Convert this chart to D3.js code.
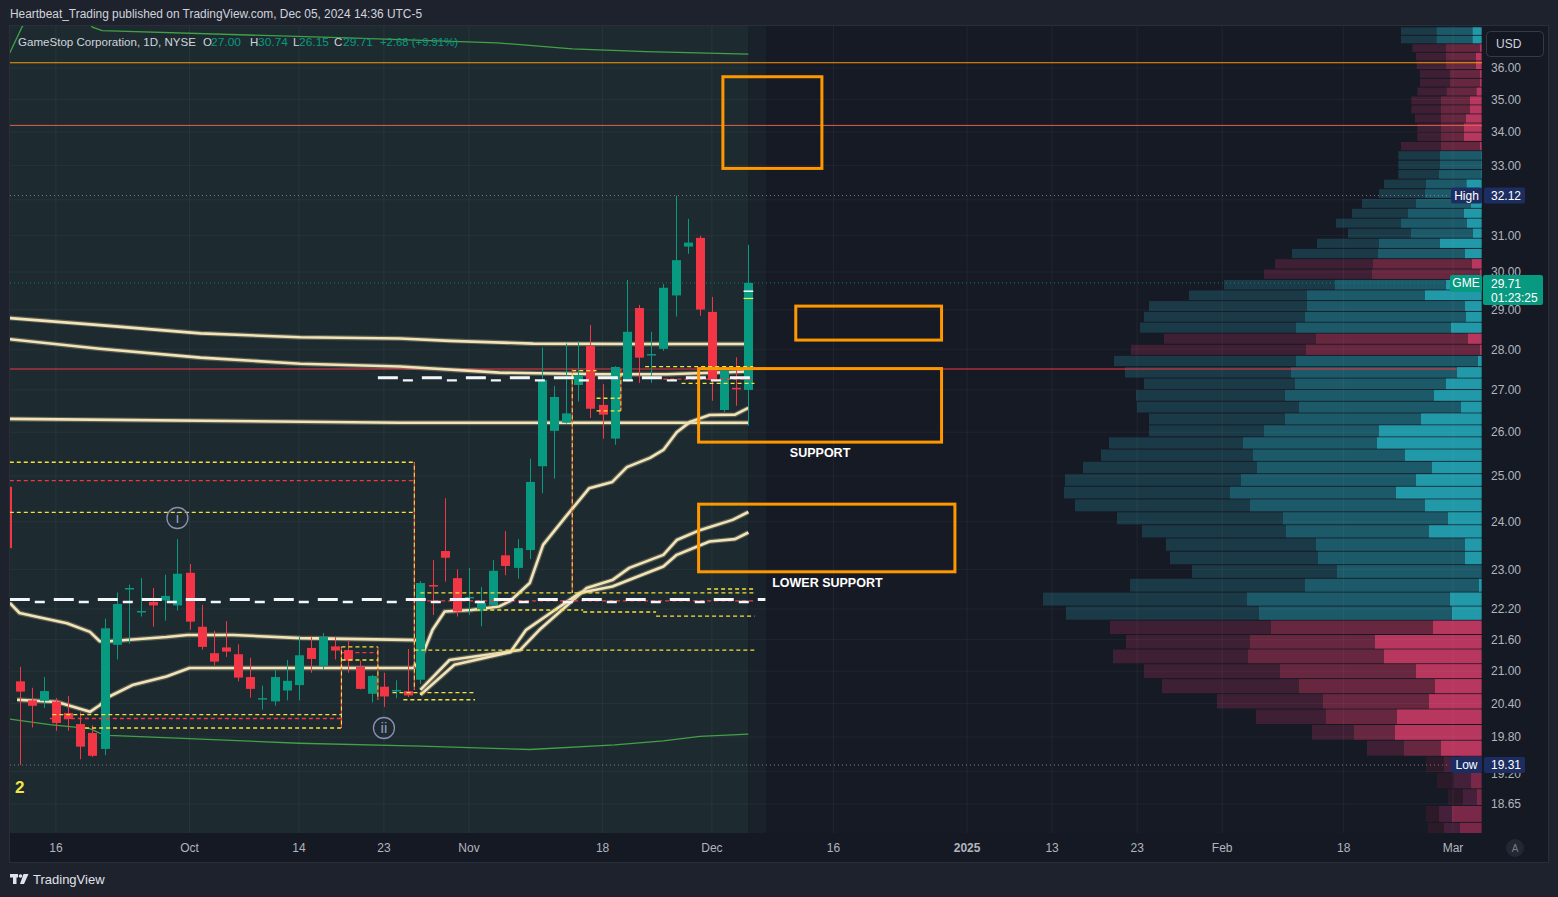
<!DOCTYPE html>
<html><head><meta charset="utf-8">
<script src="https://cdn.jsdelivr.net/npm/d3@7"></script>
<style>
html,body{margin:0;padding:0;background:#1e222d;overflow:hidden;}
svg{display:block;}
</style></head><body>
<svg id="c" width="1558" height="897"></svg>
<script>
// ---------------- DATA ----------------
const dates = ["Sep 10","Sep 11","Sep 12","Sep 13","Sep 16","Sep 17","Sep 18","Sep 19","Sep 20","Sep 23","Sep 24","Sep 25","Sep 26","Sep 27","Sep 30",
"Oct 1","Oct 2","Oct 3","Oct 4","Oct 7","Oct 8","Oct 9","Oct 10","Oct 11","Oct 14","Oct 15","Oct 16","Oct 17","Oct 18","Oct 21","Oct 22","Oct 23","Oct 24","Oct 25","Oct 28","Oct 29","Oct 30","Oct 31",
"Nov 1","Nov 4","Nov 5","Nov 6","Nov 7","Nov 8","Nov 11","Nov 12","Nov 13","Nov 14","Nov 15","Nov 18","Nov 19","Nov 20","Nov 21","Nov 22","Nov 25","Nov 26","Nov 27","Nov 29",
"Dec 2","Dec 3","Dec 4","Dec 5"];
const opens  = [24.76,20.81,20.46,20.45,20.44,20.23,20.03,19.87,19.59,21.50,22.60,22.14,22.34,22.37,22.27,22.93,21.85,21.34,21.45,21.32,20.89,20.48,20.44,20.64,20.74,21.44,21.10,21.47,21.40,21.08,20.58,20.71,20.63,20.63,20.84,22.68,23.38,22.82,22.41,22.18,22.28,23.29,23.03,23.40,25.22,26.03,26.22,27.12,28.08,26.64,25.85,27.22,29.05,27.86,28.01,29.38,30.69,30.93,28.95,26.52,27.05,27.00];
const highs  = [24.90,21.08,20.69,20.89,20.50,20.54,20.24,20.01,22.01,22.53,22.69,22.82,22.62,22.89,23.63,23.11,22.28,21.77,21.96,21.51,21.25,20.73,21.03,21.21,21.65,21.67,21.73,21.65,21.59,21.20,20.93,20.97,20.83,21.42,22.76,23.19,24.51,23.00,23.03,22.64,23.19,23.80,23.63,25.39,28.04,27.09,28.14,28.20,28.61,27.14,27.58,29.79,29.13,28.44,29.68,32.12,31.46,30.99,29.34,27.57,27.80,30.74];
const lows   = [23.30,19.31,19.97,20.32,19.91,19.91,19.41,19.45,19.48,21.22,21.52,22.05,21.85,21.97,22.17,21.79,21.41,21.11,21.27,20.81,20.51,20.29,20.36,20.46,20.46,20.97,21.03,21.22,20.97,20.66,20.42,20.34,20.50,20.52,20.76,22.08,22.75,22.05,22.08,21.86,22.26,22.88,22.81,23.21,24.62,24.94,26.20,26.72,26.33,25.85,25.71,27.20,27.17,27.17,27.96,28.83,30.49,28.85,26.74,26.47,26.62,26.15];
const closes = [23.44,20.62,20.36,20.63,20.05,20.12,19.63,19.47,21.82,22.30,22.62,22.16,22.27,22.46,22.91,21.95,21.46,21.18,21.37,20.88,20.67,20.50,20.89,20.82,21.30,21.23,21.65,21.39,21.20,20.67,20.91,20.53,20.65,20.55,22.72,22.66,23.24,22.15,22.44,22.32,22.97,23.07,23.44,24.87,27.24,26.83,26.44,27.36,26.55,26.41,27.56,28.44,27.79,27.88,29.58,30.32,30.80,29.01,27.24,27.47,27.03,29.71];
const firstIdx = -1; // Sep 10 sits one trading day before Sep 11 (index 0)

const timeTickLabels = ["16","Oct","14","23","Nov","18","Dec","16","2025","13","23","Feb","18","Mar"];
const timeTickIdx    = [3,14,23,30,37,48,57,67,78,85,92,99,109,118];
const priceTicks = [36,35,34,33,31,30,29,28,27,26,25,24,23,22.2,21.6,21,20.4,19.8,19.2,18.65];
const gridPrices = [36,35,34,33,32,31,30,29,28,27,26,25,24,23,22.2,21.6,21,20.4,19.8,19.2,18.65];

// indicator lines: [trading-day index, price]
const bandUpper = [[-0.8,36.49],[0.2,37.34],[1.5,38.0],[3.5,38.3],[5.5,37.6],[6,37.34],[6.8,37.22],[27,36.98],[39.3,36.82],[45.5,36.62],[51.6,36.53],[60,36.45]];
const bandLower = [[-0.8,20.12],[2.5,20.02],[5.8,19.95],[6.6,19.87],[7.4,19.83],[23,19.69],[33,19.64],[42,19.58],[49,19.66],[53,19.73],[56,19.81],[60,19.85]];
const vwapTop1 = [[-0.8,28.79],[6.6,28.61],[14.9,28.40],[23.1,28.30],[31.3,28.27],[35.4,28.21],[42.3,28.14],[50.5,28.13],[60,28.13]];
const vwapTop2 = [[-0.8,28.25],[6.6,28.01],[14.9,27.79],[23.1,27.64],[31.3,27.57],[39.5,27.42],[47.8,27.38],[53.3,27.38],[60,27.45]];
const vwapTop3 = [[-0.8,26.31],[31.3,26.22],[60,26.22]];
const vwapSep1 = [[-0.8,22.32],[0,22.12],[1.7,22.03],[3.9,21.92],[5.8,21.75],[6.6,21.57],[7.4,21.57],[12.1,21.65],[13.8,21.69],[17.6,21.69],[23.1,21.63],[33,21.59]];
const vwapSep2 = [[-0.2,20.47],[3.1,20.43],[5.8,20.25],[6.6,20.37],[7.4,20.53],[9.3,20.74],[12.1,20.90],[14,21.06],[25.8,21.06],[32.4,21.06],[33,21.21],[34,21.79],[35,22.15],[37.2,22.18],[39.5,22.25],[40.4,22.36],[42,22.72],[43.1,23.51],[45,24.12],[46.9,24.73],[48.8,24.87],[50,25.20],[51.9,25.41],[53,25.59],[54.1,26.00],[55.2,26.24],[56.8,26.40],[58.9,26.41],[60,26.57]];
const vwapOct1 = [[33,20.65],[35.4,21.21],[41.2,21.40],[42.8,21.79],[46.7,22.62],[48.8,22.78],[50.2,23.03],[53,23.30],[54.1,23.61],[56,23.82],[58.7,24.04],[60,24.21]];
const vwapOct2 = [[33,20.56],[35.8,21.12],[40.4,21.36],[41.7,21.79],[46.1,22.52],[48.8,22.65],[53,23.06],[54.1,23.30],[56.8,23.58],[58.9,23.63],[60,23.77]];

// horizontal levels
const orangeLevel = 36.17, salmonLevel = 34.20, redLevel = 27.51;
const whiteDashLevels = [[-0.8,61.4,22.37],[29.5,60.2,27.27]];
const yellowDash = [[-0.8,32.5,25.31],[-0.8,32.5,24.20],[2.7,26.5,20.20],[5.4,26.5,19.96],[26.5,29.5,21.46],[26.5,29.5,21.21],[30.7,37.5,20.60],[31.6,37.5,20.47],
  [45.5,47.5,27.47],[47.5,49.5,26.80],[47.5,49.5,26.50],[51.5,60.4,27.57],[54.5,60.5,27.16],[56.6,60.5,22.60],[33,60.5,22.52],[37.6,46.4,22.18],[46.4,52.4,22.14],[52.4,60.5,22.06],[32.5,60.5,21.40]];
const redDash = [[-0.8,32.5,24.90],[2.5,26.5,20.13],[26.5,29.5,21.35],[32.4,60.5,22.36],[53,60.4,27.26]];
const vertDash = [[32.5,25.31,20.65],[26.5,21.46,19.96],[29.5,21.46,20.47],[45.5,27.49,22.52],[49.5,27.49,26.50]];

// orange zones [idx0, idx1, priceTop, priceBottom]
const zones = [[57.9,66.05,35.72,32.91],[63.9,75.9,29.10,28.23],[55.9,75.9,27.52,25.77],[55.9,77.0,24.38,22.95]];
const zoneLabels = [["SUPPORT",65.9,25.54],["LOWER SUPPORT",66.5,22.72]];
const waveLabels = [["i",13,24.08],["ii",30,19.96]];

// volume profile (rows from top, price step per row)
const vpTop = 37.33, vpStep = 0.2793;
const vpTotal  = [80.5,80.5,69.2,65.5,64.8,61.5,61.5,64.2,70.2,70.2,66.5,64.2,64.2,80.5,83.2,83.2,83.2,97.5,102.5,119.5,129.5,145.5,133.5,164.5,189.5,206.5,217.5,257.5,292.5,332.5,337.5,341.5,317.5,350.5,367.5,356.5,337.5,345.5,344.5,332.5,332.5,372.5,380.5,398.5,416.5,417.5,406.5,364.5,339.5,315.5,311.5,289.5,351.5,438.5,415.5,371.5,355.5,368.5,337.5,319.5,264.5,225.5,169.5,114.5,55.5,44.5,33.5,55.5,53.5];
const vpMid    = [44.8,44.8,35.5,35.5,35.5,31.5,31.5,34.8,40.5,40.5,40.5,40.5,40.5,40.5,41.5,41.5,42.5,55.5,56.5,65.5,73.5,80.5,70.5,102.5,103.5,108.5,109.5,146.5,174.5,174.5,176.5,185.5,165.5,175.5,185.5,190.5,186.5,196.5,182.5,196.5,217.5,238.5,228.5,224.5,240.5,251.5,231.5,198.5,195.5,165.5,163.5,144.5,176.5,234.5,222.5,210.5,231.5,233.5,201.5,182.5,158.5,155.5,127.5,77.5,37.5,27.5,18.5,42.5,37.5];
const vpBright = [8.8,8.8,1.5,5.5,5.5,1.5,1.5,4.8,11.5,11.5,15.5,17.5,17.5,1.5,0.5,0.5,0.5,14.8,10,10.5,17.5,14.5,8.5,41.5,16.5,9.5,1.5,35.5,56.5,16.5,15.5,30.5,13.5,1.5,3.5,24.5,35.5,47.5,20.5,60.5,102.5,104.5,76.5,49.5,65.5,85.5,56.5,33.5,52.5,16.5,16.5,0,2.5,31.5,29.5,48.5,106.5,97.5,65.5,46.5,52.5,84.5,86.5,40.5,21.5,10.5,4.5,29.5,21.5];
const vpSide = "ttpppppppppppptttttttttttpptttttpptttttttttttttttttttttppppppppppppppp"; // t = buy-dominant (teal), p = sell-dominant (pink)
const vpDimFrom = 64;

// ---------------- LAYOUT ----------------
const W = 1558, H = 897;
const P = {l:10, t:26, r:1482, b:833};
const FONT = "'Liberation Sans','Noto Sans',Arial,sans-serif";
const svg = d3.select("#c").attr("font-family", FONT);
const x = d3.scaleLinear().domain([0,118]).range([19.5,1453]);
const y = d3.scaleLog().domain([36,19.8]).range([68,737]);
const xv = d3.scaleLinear().domain([0,438.5]).range([0,438.5]);

svg.append("rect").attr("width",W).attr("height",H).attr("fill","#1e222d");
svg.append("rect").attr("x",9.5).attr("y",25.5).attr("width",1539).attr("height",837).attr("fill","#151924").attr("stroke","#2a2e39");
const defs = svg.append("defs");
defs.append("clipPath").attr("id","pane").append("rect").attr("x",P.l).attr("y",P.t).attr("width",P.r-P.l).attr("height",P.b-P.t);
const g = svg.append("g").attr("clip-path","url(#pane)");
g.append("rect").attr("x",P.l).attr("y",P.t).attr("width",P.r-P.l).attr("height",P.b-P.t).attr("fill","#161a25");
g.append("rect").attr("x",P.l).attr("y",P.t).attr("width",x(60)-P.l).attr("height",P.b-P.t).attr("fill","#1d2b30");
g.append("rect").attr("x",x(60)).attr("y",P.t).attr("width",x(61.45)-x(60)).attr("height",P.b-P.t).attr("fill","#19212a");

// volume profile
const vpCol = {t:["#1b3a47","#1d5a69","#2299a8"], p:["#3f1f33","#66273f","#b8375f"]};
const vpDim = {t:["#16303a","#1a4450","#1f6f7a"], p:["#2c1a29","#44203a","#7a2848"]};
vpTotal.forEach((v,i)=>{
  const pt = vpTop - i*vpStep, pb = vpTop - (i+1)*vpStep;
  const y0 = y(pt), y1 = y(pb) - 1;
  const pal = (i>=vpDimFrom ? vpDim : vpCol)[vpSide[i]];
  [[v,0],[vpMid[i],1],[vpBright[i],2]].forEach(([val,k])=>{
    if(val<=0) return;
    g.append("rect").attr("x",P.r-0.5-xv(val)).attr("y",y0).attr("width",xv(val)).attr("height",Math.max(0.5,y1-y0)).attr("fill",pal[k]);
  });
});

// grid
timeTickIdx.forEach(t=>g.append("line").attr("x1",x(t)).attr("x2",x(t)).attr("y1",P.t).attr("y2",P.b).attr("stroke","#ffffff").attr("stroke-opacity",0.05));
gridPrices.forEach(p=>g.append("line").attr("x1",P.l).attr("x2",P.r).attr("y1",y(p)).attr("y2",y(p)).attr("stroke","#ffffff").attr("stroke-opacity",0.045));

// horizontal levels
g.append("line").attr("x1",P.l).attr("x2",P.r).attr("y1",y(orangeLevel)).attr("y2",y(orangeLevel)).attr("stroke","#ff9800").attr("stroke-width",1.2);
g.append("line").attr("x1",P.l).attr("x2",P.r).attr("y1",y(salmonLevel)).attr("y2",y(salmonLevel)).attr("stroke","#e0604a").attr("stroke-width",1);
g.append("line").attr("x1",P.l).attr("x2",x(118.3)).attr("y1",y(redLevel)).attr("y2",y(redLevel)).attr("stroke","#f23645").attr("stroke-width",1.2);

// dotted high / low / last
const hi = d3.max(highs), lo = d3.min(lows), last = closes[closes.length-1];
[[hi,"#9598a1"],[lo,"#9598a1"],[last,"#089981"]].forEach(([p,c])=>g.append("line").attr("x1",P.l).attr("x2",1450).attr("y1",y(p)).attr("y2",y(p)).attr("stroke",c).attr("stroke-width",1).attr("stroke-dasharray","1,3").attr("stroke-opacity",0.8));

// green bands
const lineGen = d3.line().x(d=>x(d[0])).y(d=>y(d[1]));
[bandUpper,bandLower].forEach(d=>g.append("path").attr("d",lineGen(d)).attr("fill","none").attr("stroke","#43a047").attr("stroke-width",1.3));

// cream anchored lines
[vwapTop1,vwapTop2,vwapTop3,vwapSep1,vwapSep2,vwapOct1,vwapOct2].forEach(d=>{
  g.append("path").attr("d",lineGen(d)).attr("fill","none").attr("stroke","#c9b98c").attr("stroke-opacity",0.35).attr("stroke-width",5).attr("stroke-linejoin","round");
  g.append("path").attr("d",lineGen(d)).attr("fill","none").attr("stroke","#f2e3b8").attr("stroke-width",2.6).attr("stroke-linejoin","round");
});

// candles
const up = "#089981", dn = "#f23645";
opens.forEach((o,i)=>{
  const idx = firstIdx + i, c = closes[i], col = c>=o ? up : dn;
  const cx = Math.round(x(idx)) + 0.5;
  g.append("line").attr("x1",cx).attr("x2",cx).attr("y1",y(highs[i])).attr("y2",y(lows[i])).attr("stroke",col).attr("stroke-width",1);
  const yt = y(Math.max(o,c)), yb = y(Math.min(o,c));
  g.append("rect").attr("x",cx-4.5).attr("y",yt).attr("width",9).attr("height",Math.max(1.5,yb-yt)).attr("fill",col);
});
// small marks on last candle
g.append("line").attr("x1",x(59.6)).attr("x2",x(60.4)).attr("y1",y(29.49)).attr("y2",y(29.49)).attr("stroke","#ffffff").attr("stroke-width",1.5);
g.append("line").attr("x1",x(59.6)).attr("x2",x(60.4)).attr("y1",y(29.30)).attr("y2",y(29.30)).attr("stroke","#f5e642").attr("stroke-width",1.2);

// dashed structure lines
yellowDash.forEach(([a,b,p])=>g.append("line").attr("x1",x(a)).attr("x2",x(b)).attr("y1",y(p)).attr("y2",y(p)).attr("stroke","#f5e23a").attr("stroke-width",1.3).attr("stroke-dasharray","4,3"));
redDash.forEach(([a,b,p])=>g.append("line").attr("x1",x(a)).attr("x2",x(b)).attr("y1",y(p)).attr("y2",y(p)).attr("stroke","#f23645").attr("stroke-width",1.3).attr("stroke-dasharray","4,3"));
vertDash.forEach(([a,p0,p1])=>{
  g.append("line").attr("x1",x(a)).attr("x2",x(a)).attr("y1",y(p0)).attr("y2",y(p1)).attr("stroke","#f23645").attr("stroke-width",1.2).attr("stroke-dasharray","4,3");
  g.append("line").attr("x1",x(a)).attr("x2",x(a)).attr("y1",y(p0)).attr("y2",y(p1)).attr("stroke","#f5e23a").attr("stroke-width",1.2).attr("stroke-dasharray","4,3").attr("stroke-dashoffset",3.5);
});
whiteDashLevels.forEach(([a,b,p])=>{
  g.append("line").attr("x1",x(a)).attr("x2",x(b)).attr("y1",y(p)-1).attr("y2",y(p)-1).attr("stroke","#f4f7fa").attr("stroke-width",3).attr("stroke-dasharray","20,24");
  g.append("line").attr("x1",x(a)).attr("x2",x(b)).attr("y1",y(p)+1.6).attr("y2",y(p)+1.6).attr("stroke","#f4f7fa").attr("stroke-width",2.4).attr("stroke-dasharray","10,34").attr("stroke-dashoffset",-25);
});

// orange zones
zones.forEach(([a,b,pt,pb])=>g.append("rect").attr("x",x(a)).attr("y",y(pt)).attr("width",x(b)-x(a)).attr("height",y(pb)-y(pt)).attr("fill","none").attr("stroke","#ff9800").attr("stroke-width",3));
zoneLabels.forEach(([t,i,p])=>g.append("text").attr("x",x(i)).attr("y",y(p)).attr("dy","0.35em").attr("text-anchor","middle").attr("fill","#ffffff").attr("font-size",12.5).attr("font-weight","bold").text(t));
waveLabels.forEach(([t,i,p])=>{
  g.append("circle").attr("cx",x(i)).attr("cy",y(p)).attr("r",10.5).attr("fill","none").attr("stroke","#8c8fb4").attr("stroke-width",1.3);
  g.append("text").attr("x",x(i)).attr("y",y(p)).attr("dy","0.36em").attr("text-anchor","middle").attr("fill","#9a9dc0").attr("font-size",15).text(t);
});
g.append("text").attr("x",15).attr("y",787).attr("dy","0.35em").attr("fill","#f5e642").attr("font-size",17).attr("font-weight","bold").text("2");

// ---------------- AXES ----------------
const ax = svg.append("g").attr("fill","#b2b5be").attr("font-size",12);
priceTicks.forEach(p=>ax.append("text").attr("x",1491).attr("y",y(p)+(p===19.2?2:0)).attr("dy","0.36em").text(d3.format(".2f")(p)));
timeTickLabels.forEach((t,i)=>ax.append("text").attr("x",x(timeTickIdx[i])).attr("y",848).attr("dy","0.35em").attr("text-anchor","middle").attr("font-weight",t==="2025"?"bold":"normal").text(t));

// USD box
svg.append("rect").attr("x",1486.5).attr("y",31.5).attr("width",57).attr("height",25).attr("rx",4).attr("fill","#131722").attr("stroke","#363a45");
svg.append("text").attr("x",1496).attr("y",44).attr("dy","0.35em").attr("fill","#d1d4dc").attr("font-size",12).text("USD");

// High / Low / GME labels
function tag(label,val,p,fill){
  const yy = y(p);
  svg.append("rect").attr("x",1451).attr("y",yy-8).attr("width",31).attr("height",16).attr("rx",2).attr("fill",fill);
  svg.append("text").attr("x",1466.5).attr("y",yy).attr("dy","0.36em").attr("text-anchor","middle").attr("fill","#ffffff").attr("font-size",12).text(label);
  svg.append("rect").attr("x",1484).attr("y",yy-8).attr("width",41).attr("height",16).attr("rx",2).attr("fill",fill);
  svg.append("text").attr("x",1491).attr("y",yy).attr("dy","0.36em").attr("fill","#ffffff").attr("font-size",12).text(val);
}
tag("High", d3.format(".2f")(hi), hi, "#1c2d62");
tag("Low", d3.format(".2f")(lo), lo, "#1c2d62");
{
  const yy = y(last);
  svg.append("rect").attr("x",1450).attr("y",yy-8).attr("width",32).attr("height",17).attr("rx",2).attr("fill",up);
  svg.append("text").attr("x",1466).attr("y",yy).attr("dy","0.38em").attr("text-anchor","middle").attr("fill","#ffffff").attr("font-size",12).text("GME");
  svg.append("rect").attr("x",1483).attr("y",yy-8).attr("width",60).attr("height",30).attr("rx",2).attr("fill",up);
  svg.append("text").attr("x",1491).attr("y",yy+0.5).attr("dy","0.36em").attr("fill","#ffffff").attr("font-size",12).text(d3.format(".2f")(last));
  svg.append("text").attr("x",1491).attr("y",yy+14.5).attr("dy","0.36em").attr("fill","#ffffff").attr("font-size",12).text("01:23:25");
}
// "A" button
svg.append("circle").attr("cx",1515).attr("cy",848).attr("r",9).attr("fill","#232733");
svg.append("text").attr("x",1515).attr("y",848).attr("dy","0.36em").attr("text-anchor","middle").attr("fill","#787b86").attr("font-size",10).text("A");

// header
svg.append("text").attr("x",10).attr("y",14).attr("dy","0.35em").attr("fill","#d1d4dc").attr("font-size",12.5)
  .attr("textLength",412).attr("lengthAdjust","spacingAndGlyphs")
  .text("Heartbeat_Trading published on TradingView.com, Dec 05, 2024 14:36 UTC-5");

// legend
const lg = svg.append("g").attr("font-size",11.5);
const lgY = 42;
lg.append("text").attr("x",18).attr("y",lgY).attr("dy","0.35em").attr("fill","#d1d4dc").attr("textLength",178).attr("lengthAdjust","spacingAndGlyphs").text("GameStop Corporation, 1D, NYSE");
const ohlc = [["O",203,d3.format(".2f")(opens[opens.length-1]),211],["H",250,d3.format(".2f")(highs[highs.length-1]),258],["L",293,d3.format(".2f")(lows[lows.length-1]),299],["C",334,d3.format(".2f")(last),343]];
ohlc.forEach(([k,kx,v,vx])=>{
  lg.append("text").attr("x",kx).attr("y",lgY).attr("dy","0.35em").attr("fill","#d1d4dc").text(k);
  lg.append("text").attr("x",vx).attr("y",lgY).attr("dy","0.35em").attr("fill",up).attr("textLength",30).attr("lengthAdjust","spacingAndGlyphs").text(v);
});
const chg = last - closes[closes.length-2];
lg.append("text").attr("x",380).attr("y",lgY).attr("dy","0.35em").attr("fill",up).attr("textLength",78).attr("lengthAdjust","spacingAndGlyphs")
  .text("+" + d3.format(".2f")(chg) + " (+" + d3.format(".2f")(chg/closes[closes.length-2]*100) + "%)");

// TradingView logo
const logo = svg.append("g").attr("fill","#e0e3eb");
logo.append("rect").attr("x",10).attr("y",874).attr("width",8).attr("height",3.5);
logo.append("rect").attr("x",13).attr("y",874).attr("width",3.5).attr("height",10);
logo.append("circle").attr("cx",20.5).attr("cy",876).attr("r",1.8);
logo.append("path").attr("d","M23.5,874 L28.5,874 L24,884 L20,884 Z");
svg.append("text").attr("x",33).attr("y",879).attr("dy","0.35em").attr("fill","#e0e3eb").attr("font-size",13).text("TradingView");
</script></body></html>
